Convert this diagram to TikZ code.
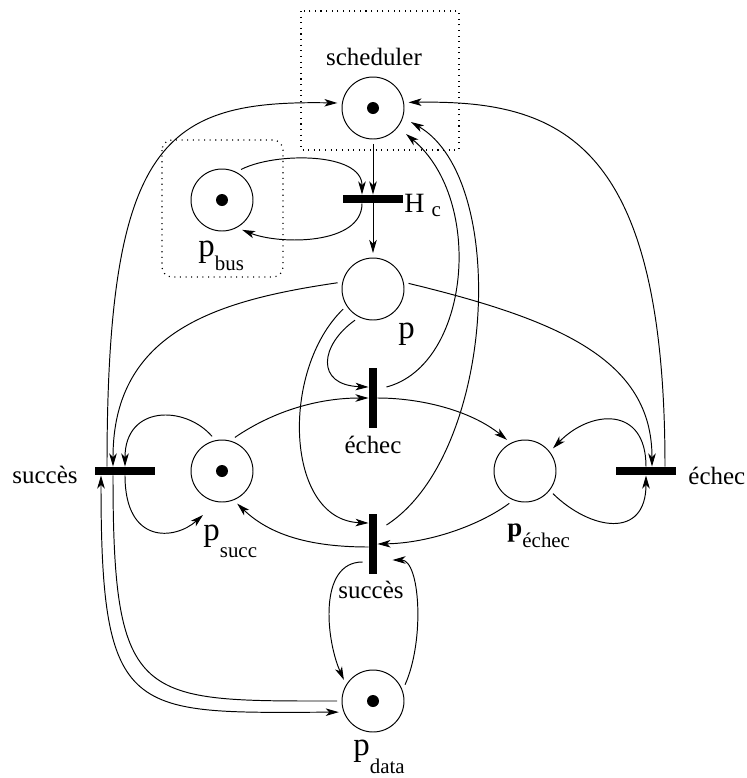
\documentclass[tikz,border=0pt]{standalone}
\usepackage{fontspec}
\setmainfont{Liberation Serif}
\usepackage{tikz}
\usetikzlibrary{arrows.meta, calc}
\newcommand{\biglab}{\fontsize{18.7}{20}\selectfont}
\newcommand{\sublab}{\fontsize{11.9}{13}\selectfont}
\tikzset{>={Stealth[length=2.6mm, width=1.5mm, inset=0.7mm]}}
\tikzset{place/.style={circle, draw, minimum size=1.24cm, inner sep=0pt, outer sep=0.1cm},
  marked/.style={place, path picture={\fill (path picture bounding box.center) circle (0.12cm);}},
  hbar/.style={fill, inner sep=0pt, minimum width=1.2cm, minimum height=0.16cm},
  vbar/.style={fill, inner sep=0pt, minimum width=0.16cm, minimum height=1.2cm},
  lbl/.style={inner sep=0pt, font=\fontsize{14.2}{16}\selectfont},
  zone/.style={dash pattern=on 0.6pt off 2.6pt, line width=0.7pt}}

\begin{document}
\begin{tikzpicture}[x=0.02cm, y=-0.02cm, line width=0.55pt]
	\useasboundingbox (0,0) rectangle (747,778);

	% places
	\node[marked] (sched) at (373,108) {};
	\node[marked] (pbus) at (222,200) {};
	\node[place] (p) at (373,289) {};
	\node[marked] (psucc) at (222,471) {};
	\node[place] (pechec) at (525,471) {};
	\node[marked] (pdata) at (373,701) {};

	% transitions
	\node[hbar] (hc) at (373,199) {};
	\node[vbar] (techec) at (373,398) {};
	\node[vbar] (tsucc) at (373,544) {};
	\node[hbar] (tsuccl) at (125,471) {};
	\node[hbar] (techecr) at (646,471) {};

	\node[lbl, anchor=base] (lsched) at (374,65) {scheduler};
	\node[lbl, anchor=base west, font=\fontsize{15.9}{17}\selectfont] (lhc) at (404,212) {H\hspace{4pt}\raisebox{-2.8pt}{\sublab c}};
	\node[lbl, anchor=base west] (lp) at (398,338) {\biglab p};
	\node[lbl, anchor=base west] (lpbus) at (198,256) {\biglab p\raisebox{-8.5pt}{\sublab bus}};
	\node[lbl, anchor=base west] (lpsucc) at (203,540) {\biglab p\raisebox{-9.9pt}{\sublab succ}};
	\node[lbl, anchor=base west] (lpechec) at (507,536) {\fontsize{15.3}{16}\selectfont\bfseries p\raisebox{-6.8pt}{\sublab\mdseries échec}};
	\node[lbl, anchor=base west] (lpdata) at (353,755) {\biglab p\raisebox{-10.8pt}{\sublab data}};
	\node[lbl, anchor=base] (ltechec) at (373,453) {échec};
	\node[lbl, anchor=base] (ltsucc) at (371,598) {succès};
	\node[lbl, anchor=base west] (ltsuccl) at (12,483) {succès};
	\node[lbl, anchor=base west] (ltechecr) at (688,484) {échec};

	\draw[zone] (301,11) rectangle (459,150);
	\draw[zone, rounded corners=0.2cm] (162,140) rectangle (283,277);

	\draw[->] (sched) -- (hc);
	\draw[->] (hc) -- (p);
	\draw[->] (pbus.58) .. controls (275,152) and (362,152) .. ($(hc.north)+(-11,0)$);
	\draw[->] ($(hc.south)+(-11,0)$) .. controls (362,245) and (280,245) .. (pbus.-56);

	\draw[->] (p.170) .. controls (220,300) and (113,330) .. ($(tsuccl.north)+(-12,0)$);
	\draw[->] ($(tsuccl.north)+(-18,0)$) .. controls (107,140) and (165,100) .. (sched.172);
	\draw[->] (psucc.106) .. controls (185,405) and (125,405) .. (tsuccl.north);
	\draw[->] (tsuccl.south) .. controls (125,545) and (175,540) .. ($(psucc)+(-19,44)$);
	\draw[<->] ($(tsuccl.south)+(-24,0)$) .. controls (101,720) and (130,713) .. (pdata.-162);
	\draw ($(tsuccl.south)+(-12,0)$) .. controls (113,705) and (140,701) .. (pdata.180);

	\draw[->] (psucc.69) .. controls (275,410) and (320,398) .. (techec.west);
	\draw[->] (p.-120) .. controls (320,345) and (315,385) .. ($(techec.west)+(0,-11)$);
	\draw[->] (p.-146) .. controls (280,370) and (285,520) .. ($(tsucc.west)+(0,-21)$);
	\draw[->] ($(techec.east)+(9,-11)$) .. controls (470,365) and (485,200) .. ($(sched)+(33,26)$);
	\draw[->] ($(tsucc.east)+(9,-19)$) .. controls (495,455) and (510,180) .. ($(sched)+(38,14)$);
	\draw[->] (techec.east) .. controls (420,398) and (470,410) .. (pechec.120);

	\draw[->] (p.9) .. controls (560,320) and (652,360) .. ($(techecr.north)+(6,0)$);
	\draw[->] ($(techecr.north)+(19,0)$) .. controls (665,140) and (560,100) .. (sched.9);
	\draw[->] (techecr.north) .. controls (646,405) and (590,410) .. (pechec.39);
	\draw[->] (pechec.-39) .. controls (590,530) and (646,540) .. (techecr.south);

	\draw[->] (pechec.-116) .. controls (480,525) and (430,543) .. (tsucc.east);
	\draw[->] ($(tsucc.west)+(0,3)$) .. controls (310,547) and (270,535) .. (psucc.-65);
	\draw[->] ($(tsucc.west)+(-6,18)$) .. controls (318,562) and (326,640) .. (pdata.144);
	\draw[->] (pdata.27) .. controls (425,640) and (420,560) .. ($(tsucc.east)+(15,16)$);
\end{tikzpicture}
\end{document}
